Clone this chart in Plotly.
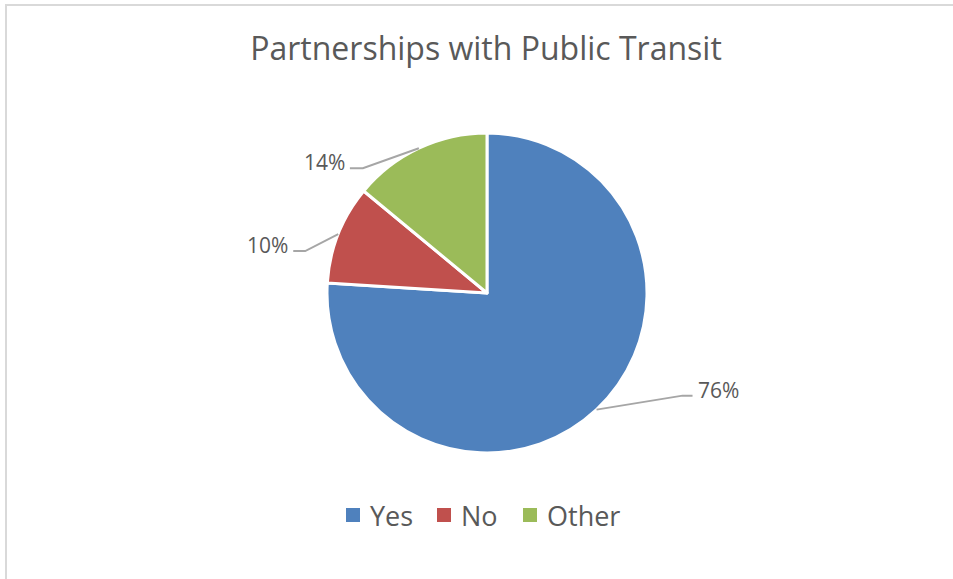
import math
import plotly.graph_objects as go

# Survey answers
categories = ["Yes", "No", "Other"]
shares = [76, 10, 14]
label_texts = ["76%", "10%", "14%"]

colors = ["#4F81BD", "#C0504D", "#9BBB59"]

W, H = 953, 579
CX, CY, R = 487, 293, 160          # pie centre and radius in pixels
# leader-line elbow offsets from the slice edge, and horizontal tail length
elbows = [(86, -14), (-33, 17), (-56, 20)]
tails = [10, -12, -13]
# legend swatch left edges (pixels) and row centre
legend_x = [346, 437, 523]
LEG_Y, SW = 515, 14
TEXT = "#595959"

fig = go.Figure()

fig.add_trace(go.Pie(
    labels=categories,
    values=shares,
    sort=False,
    direction="clockwise",
    rotation=0,
    marker=dict(colors=colors, line=dict(color="white", width=3)),
    textinfo="none",
    hoverinfo="label+percent",
    showlegend=False,
    domain=dict(x=[(CX - R) / W, (CX + R) / W],
                y=[1 - (CY + R) / H, 1 - (CY - R) / H]),
))

shapes = [
    # chart frame
    dict(type="rect", xref="x", yref="y", x0=6, y0=5, x1=1200, y1=1200,
         line=dict(color="#d9d9d9", width=2), layer="below"),
]
annotations = []

total = sum(shares)
cum = 0
for val, txt, (ex, ey), tail in zip(shares, label_texts, elbows, tails):
    mid = (cum + val / 2) / total * 2 * math.pi
    cum += val
    x0 = CX + R * math.sin(mid)
    y0 = CY - R * math.cos(mid)
    x1, y1 = x0 + ex, y0 + ey
    x2 = x1 + tail
    shapes.append(dict(type="path", xref="x", yref="y",
                       path=f"M{x0},{y0} L{x1},{y1} L{x2},{y1}",
                       line=dict(color="#a6a6a6", width=2)))
    right = tail > 0
    annotations.append(dict(
        x=x2 + (3 if right else -3), y=y1 - 6, xref="x", yref="y",
        text=txt, showarrow=False,
        xanchor="left" if right else "right", yanchor="middle",
        font=dict(family="Open Sans", size=21, color=TEXT),
    ))

# legend: coloured squares with category names
for name, col, lx in zip(categories, colors, legend_x):
    shapes.append(dict(type="rect", xref="x", yref="y",
                       x0=lx, x1=lx + SW, y0=LEG_Y - SW / 2, y1=LEG_Y + SW / 2,
                       fillcolor=col, line=dict(width=0)))
    annotations.append(dict(
        x=lx + SW + 8, y=LEG_Y, xref="x", yref="y", text=name,
        showarrow=False, xanchor="left", yanchor="middle",
        font=dict(family="Open Sans", size=27, color=TEXT),
    ))

fig.update_layout(
    width=W, height=H,
    margin=dict(l=0, r=0, t=0, b=0),
    paper_bgcolor="white",
    plot_bgcolor="rgba(0,0,0,0)",
    xaxis=dict(range=[0, W], visible=False, domain=[0, 1], fixedrange=True),
    yaxis=dict(range=[H, 0], visible=False, domain=[0, 1], fixedrange=True),
    title=dict(text="Partnerships with Public Transit",
               x=486 / W, xanchor="center", y=1 - 49 / H, yanchor="middle",
               font=dict(family="Open Sans", size=32, color=TEXT)),
    showlegend=False,
    shapes=shapes,
    annotations=annotations,
)

fig.write_html("out.html")
